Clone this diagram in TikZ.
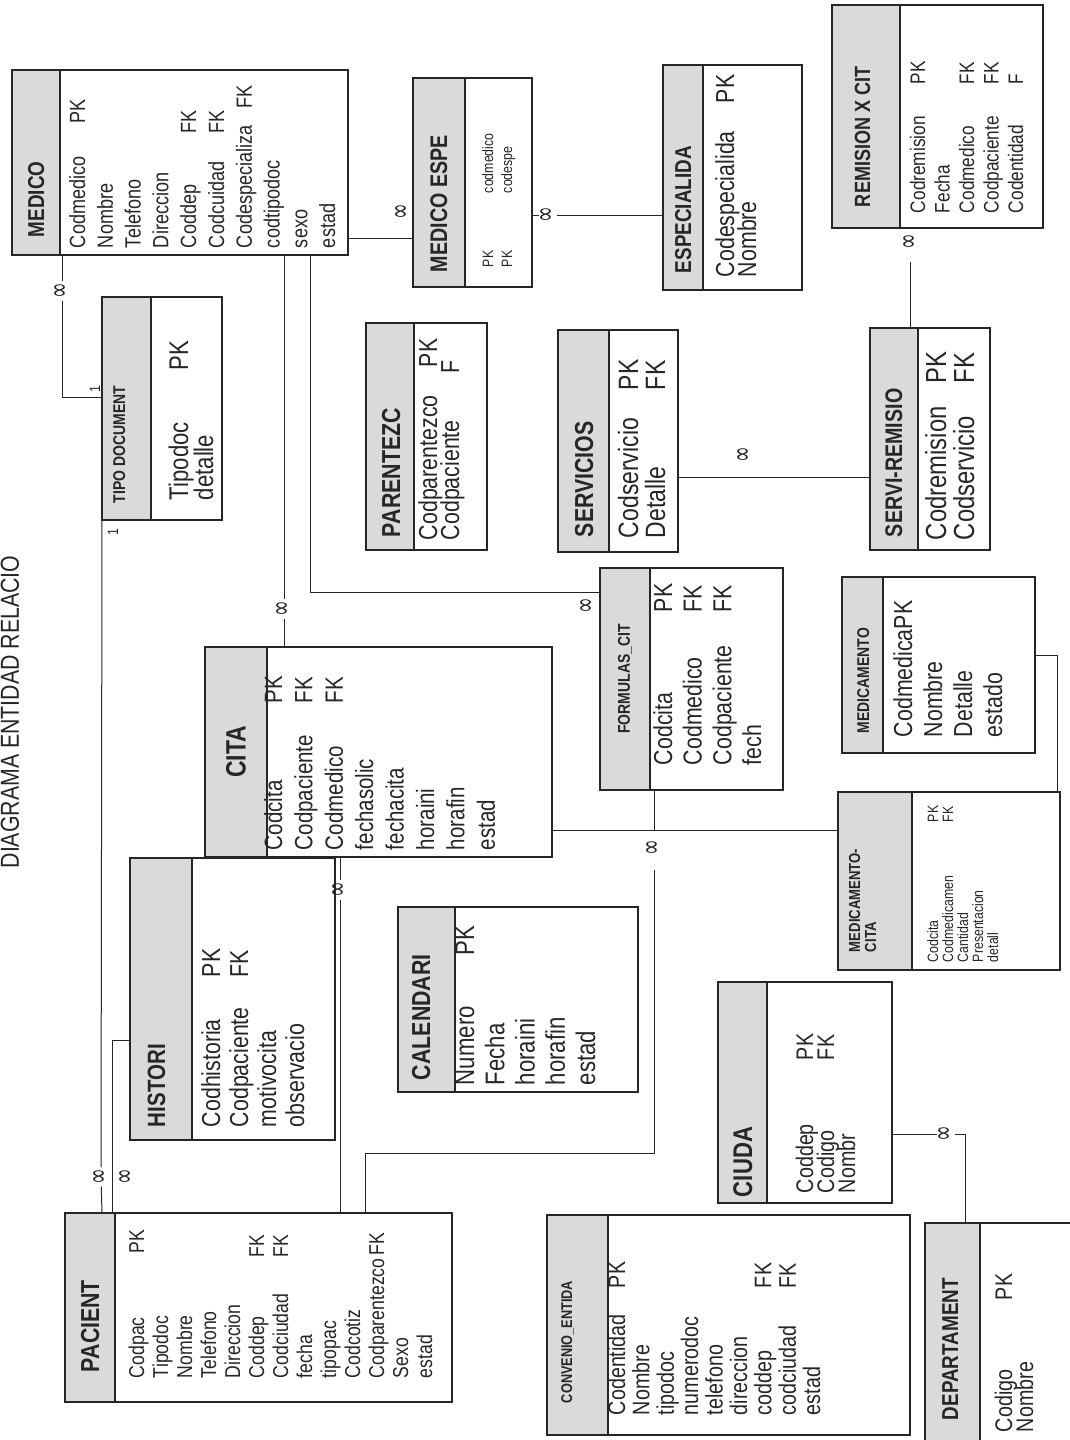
\documentclass[tikz,border=0pt]{standalone}
\usepackage{fontspec}
\usepackage{graphicx}
\setmainfont{Liberation Sans}[FakeStretch=0.82]
\newfontfamily\symf{DejaVu Sans}
\definecolor{ink}{HTML}{262626}
\definecolor{hdrgray}{HTML}{DADADA}
\def\ekw{100pt}
\newcommand\erow[3][\ekw]{\hbox{\makebox[#1][l]{#2}#3}}
\newcommand\erw[1]{\hbox{#1}}
\newcommand\eblines[3]{\vtop{\baselineskip=#1pt\lineskiplimit=-1000pt\lineskip=0pt\def\ekw{#2pt}#3}}
\newcommand\hfnt[1]{\bfseries\fontsize{#1}{#1}\selectfont}
\newcommand\bfnt[1]{\fontsize{#1}{#1}\selectfont}
\newcommand\infsym{\scalebox{1}[1.5]{∞}}
\tikzset{
  boxline/.style={draw=ink, line width=1.1pt},
  hdrbox/.style={boxline, fill=hdrgray, inner sep=0pt, outer sep=0pt, rectangle},
  bodybox/.style={boxline, fill=white, inner sep=0pt, outer sep=0pt, rectangle},
  htxt/.style={rotate=90, anchor=base west, inner sep=0pt, outer sep=0pt, text=ink},
  btxt/.style={rotate=90, anchor=base west, inner sep=0pt, outer sep=0pt, text=ink},
  conn/.style={draw=ink, line width=1pt},
  inf/.style={rotate=90, inner sep=1.5pt, text=ink, font=\symf\fontsize{19}{19}\selectfont},
  lbl/.style={rotate=90, inner sep=0pt, text=ink, font=\fontsize{15}{15}\selectfont},
}
% table: name, x0, y0, header right, x1, y1
\newcommand\ertable[6]{%
  \pgfmathsetmacro\tblw{#4-(#2)}%
  \pgfmathsetmacro\tblh{#6-(#3)}%
  \pgfmathsetmacro\tblbw{#5-(#4)}%
  \node[bodybox, minimum width=\tblbw pt, minimum height=\tblh pt] (#1) at ({(#4+#5)/2},{(#3+#6)/2}) {};
  \node[hdrbox, minimum width=\tblw pt, minimum height=\tblh pt] (#1H) at ({(#2+#4)/2},{(#3+#6)/2}) {};
}
\begin{document}
\begin{tikzpicture}[x=1pt,y=-1pt]
\useasboundingbox (0,0) rectangle (1070,1440);
\fill[white] (0,0) rectangle (1070,1440);

% title
\node[rotate=90, anchor=base, inner sep=0pt, text=ink, font=\bfnt{26}] (title) at (19,712) {DIAGRAMA ENTIDAD RELACIO};

% MEDICO
\ertable{medico}{12}{70}{60}{348}{255}
\node[htxt, font=\hfnt{23}] (medicoHT) at (44,237) {MEDICO};
\node[btxt, font=\bfnt{22}] (medicoT) at (85,248) {\eblines{27.8}{125}{\erow{Codmedico}{PK}\erw{Nombre}\erw{Telefono}\erw{Direccion}\erow[115pt]{Coddep}{FK}\erow[115pt]{Codcuidad}{FK}\erow[140pt]{Codespecializa}{FK}\erw{codtipodoc}\erw{sexo}\erw{estad}}};

% TIPO DOCUMENT
\ertable{tipodoc}{102}{297}{151}{222}{520}
\node[htxt, font=\hfnt{17}] (tipodocHT) at (125,503) {TIPO DOCUMENT};
\node[btxt, font=\bfnt{27}] (tipodocT) at (188,500) {\eblines{25}{130}{\erow{Tipodoc}{PK}\erw{detalle}}};

% MEDICO ESPE
\ertable{medespe}{413}{78}{465}{532}{287}
\node[htxt, font=\hfnt{24}] (medespeHT) at (447,272) {MEDICO ESPE};
\node[btxt, font=\bfnt{15}] (medespeT) at (493,267) {\eblines{19}{74}{\erow{PK}{codmedico}\erow{PK}{codespe}}};

% ESPECIALIDA
\ertable{especial}{663}{65}{703}{802}{290}
\node[htxt, font=\hfnt{23}] (especialHT) at (691,273) {ESPECIALIDA};
\node[btxt, font=\bfnt{26}] (especialT) at (734,277) {\eblines{22}{174}{\erow{Codespecialida}{PK}\erw{Nombre}}};

% REMISION X CIT
\ertable{remision}{832}{5}{900}{1043}{228}
\node[htxt, font=\hfnt{22}] (remisionHT) at (870,207) {REMISION X CIT};
\node[btxt, font=\bfnt{21}] (remisionT) at (925,213) {\eblines{24.5}{129}{\erow{Codremision}{PK}\erw{Fecha}\erow{Codmedico}{FK}\erow{Codpaciente}{FK}\erow{Codentidad}{F}}};

% PARENTEZC
\ertable{parentezc}{366}{323}{414}{487}{550}
\node[htxt, font=\hfnt{26}] (parentezcHT) at (400,537) {PARENTEZC};
\node[btxt, font=\bfnt{26}] (parentezcT) at (437,540) {\eblines{22}{173}{\erow{Codparentezco}{PK}\erow[167pt]{Codpaciente}{F}}};

% SERVICIOS
\ertable{servicios}{558}{330}{609}{678}{552}
\node[htxt, font=\hfnt{26}] (serviciosHT) at (593,537) {SERVICIOS};
\node[btxt, font=\bfnt{28}] (serviciosT) at (638,538) {\eblines{27}{148}{\erow{Codservicio}{PK}\erow{Detalle}{FK}}};

% SERVI-REMISIO
\ertable{servirem}{870}{328}{918}{990}{550}
\node[htxt, font=\hfnt{24}] (serviremHT) at (902,537) {SERVI-REMISIO};
\node[btxt, font=\bfnt{29}] (serviremT) at (946,540) {\eblines{28}{157}{\erow{Codremision}{PK}\erow{Codservicio}{FK}}};

% CITA
\ertable{cita}{205}{647}{267}{552}{857}
\node[htxt, anchor=center, font=\hfnt{28}] (citaHT) at (236,752) {CITA};
\node[btxt, font=\bfnt{25}] (citaT) at (282,850) {\eblines{30.4}{147}{\erow{Codcita}{PK}\erow{Codpaciente}{FK}\erow{Codmedico}{FK}\erw{fechasolic}\erw{fechacita}\erw{horaini}\erw{horafin}\erw{estad}}};

% FORMULAS_CIT
\ertable{formulas}{600}{568}{650}{783}{790}
\node[htxt, anchor=center, font=\hfnt{17}] (formulasHT) at (625,679) {FORMULAS\_CIT};
\node[btxt, font=\bfnt{26}] (formulasT) at (672,765) {\eblines{29.7}{153}{\erow{Codcita}{PK}\erow{Codmedico}{FK}\erow{Codpaciente}{FK}\erw{fech}}};

% MEDICAMENTO
\ertable{medicamento}{842}{577}{883}{1035}{753}
\node[htxt, font=\hfnt{17}] (medicamentoHT) at (869,733) {MEDICAMENTO};
\node[btxt, font=\bfnt{26}] (medicamentoT) at (912,737) {\eblines{30}{0}{\erw{CodmedicaPK}\erw{Nombre}\erw{Detalle}\erw{estado}}};

% MEDICAMENTO-CITA
\ertable{medcita}{838}{792}{912}{1060}{970}
\node[htxt, font=\hfnt{16}] (medcitaHT) at (860,952) {\eblines{16}{0}{\erw{MEDICAMENTO-}\erw{CITA}}};
\node[btxt, font=\bfnt{15}] (medcitaT) at (938,962) {\eblines{15}{140}{\erow{Codcita}{PK}\erow{Codmedicamen}{FK}\erw{Cantidad}\erw{Presentacion}\erw{detall}}};

% CALENDARI
\ertable{calendari}{398}{907}{455}{638}{1092}
\node[htxt, font=\hfnt{26}] (calendariHT) at (430,1080) {CALENDARI};
\node[btxt, font=\bfnt{27}] (calendariT) at (474,1085) {\eblines{30.3}{130}{\erow{Numero}{PK}\erw{Fecha}\erw{horaini}\erw{horafin}\erw{estad}}};

% HISTORI
\ertable{histori}{130}{858}{192}{335}{1140}
\node[htxt, font=\hfnt{25}] (historiHT) at (165,1127) {HISTORI};
\node[btxt, font=\bfnt{26}] (historiT) at (220,1127) {\eblines{28}{150}{\erow{Codhistoria}{PK}\erow{Codpaciente}{FK}\erw{motivocita}\erw{observacio}}};

% PACIENT
\ertable{pacient}{65}{1213}{115}{452}{1402}
\node[htxt, font=\hfnt{26}] (pacientHT) at (99,1372) {PACIENT};
\node[btxt, font=\bfnt{21.5}] (pacientT) at (144,1378) {\eblines{24}{125}{\erow{Codpac}{PK}\erw{Tipodoc}\erw{Nombre}\erw{Telefono}\erw{Direccion}\erow[121pt]{Coddep}{FK}\erow[121pt]{Codciudad}{FK}\erw{fecha}\erw{tipopac}\erw{Codcotiz}\erow[123pt]{Codparentezco}{FK}\erw{Sexo}\erw{estad}}};

% CONVENIO_ENTIDA
\ertable{convenio}{547}{1215}{608}{910}{1435}
\node[htxt, font=\hfnt{15.5}] (convenioHT) at (572,1403) {CONVENIO\_ENTIDA};
\node[btxt, font=\bfnt{24}] (convenioT) at (625,1415) {\eblines{24.4}{127}{\erow{Codentidad}{PK}\erw{Nombre}\erw{tipodoc}\erw{numerodoc}\erw{telefono}\erw{direccion}\erow{coddep}{FK}\erow{codciudad}{FK}\erw{estad}}};

% CIUDA
\ertable{ciuda}{718}{982}{767}{892}{1203}
\node[htxt, font=\hfnt{27}] (ciudaHT) at (752,1197) {CIUDA};
\node[btxt, font=\bfnt{24}] (ciudaT) at (813,1193) {\eblines{21}{133}{\erow{Coddep}{PK}\erow{Codigo}{FK}\erw{Nombr}}};

% DEPARTAMENT
\ertable{depart}{925}{1223}{980}{1080}{1450}
\node[htxt, font=\hfnt{23}] (departHT) at (958,1420) {DEPARTAMENT};
\node[btxt, font=\bfnt{24}] (departT) at (1012,1432) {\eblines{21}{132}{\erow{Codigo}{PK}\erw{Nombre}}};

% multiplicity marks
\node[inf] (i1) at (62,291) {\infsym};
\node[inf] (i2) at (101,1177) {\infsym};
\node[inf] (i3) at (127,1177) {\infsym};
\node[inf] (i4) at (340,890) {\infsym};
\node[inf] (i5) at (654,848) {\infsym};
\node[inf] (i7) at (284,609) {\infsym};
\node[inf] (i8) at (588,606) {\infsym};
\node[inf] (i9) at (403,212) {\infsym};
\node[inf] (i10) at (548,215) {\infsym};
\node[inf] (i11) at (745,455) {\infsym};
\node[inf, fill=white] (i12) at (911,242) {\infsym};
\node[inf] (i14) at (946,1134) {\infsym};
\node[lbl] (l1) at (95,389) {1};
\node[lbl] (l2) at (113,532) {1};

% connectors
\coordinate (k1) at (62,397);
\draw[conn] (medico.south -| k1) -- (i1) -- (k1) -- (tipodocH.west |- k1);
\draw[conn] (tipodocH.south west) -- (i2) -- (pacientH.north -| tipodocH.south west);
\coordinate (k3) at (112,1040);
\draw[conn] (historiH.west |- k3) -- (k3) -- (pacientH.north -| k3);
\draw[conn] (cita.south -| i4) -- (i4) -- (pacient.north -| i4);
\coordinate (k5a) at (365,1153);
\coordinate (k5b) at (654,1153);
\coordinate (k5c) at (654,870);
\draw[conn] (pacient.north -| k5a) -- (k5a) -- (k5b) -- (k5c);
\coordinate (k6) at (654,830);
\draw[conn] (cita.east |- k6) -- (medcitaH.west |- k6);
\draw[conn] (formulas.south -| k6) -- (k6);
\draw[conn] (medico.south -| i7) -- (i7) -- (cita.north -| i7);
\coordinate (k8) at (310,592);
\draw[conn] (medico.south -| k8) -- (k8) -- (formulasH.west |- k8);
\coordinate (k9) at (380,238);
\draw[conn] (medico.east |- k9) -- (medespeH.west |- k9);
\draw[conn] (medespe.east |- i10) -- (i10) -- (especialH.west |- i10);
\coordinate (k11) at (760,477);
\draw[conn] (servicios.east |- k11) -- (serviremH.west |- k11);
\coordinate (k12) at (910,262);
\draw[conn] (serviremH.north -| k12) -- (k12);
\coordinate (k13) at (1057,655);
\draw[conn] (medicamento.east |- k13) -- (k13) -- (medcita.north -| k13);
\coordinate (k14) at (965,1134);
\draw[conn] (ciuda.east |- k14) -- (i14) -- (k14) -- (departH.north -| k14);
\end{tikzpicture}
\end{document}
